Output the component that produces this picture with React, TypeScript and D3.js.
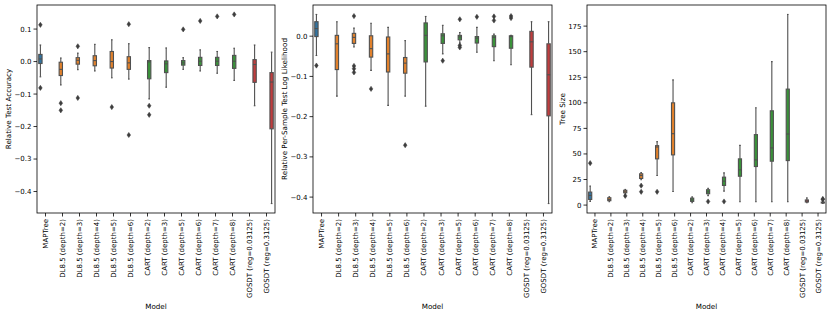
import * as d3 from "d3";

// categories
const models = [
  "MAPTree",
  "DL8.5 (depth=2)",
  "DL8.5 (depth=3)",
  "DL8.5 (depth=4)",
  "DL8.5 (depth=5)",
  "DL8.5 (depth=6)",
  "CART (depth=2)",
  "CART (depth=3)",
  "CART (depth=5)",
  "CART (depth=6)",
  "CART (depth=7)",
  "CART (depth=8)",
  "GOSDT (reg=0.03125)",
  "GOSDT (reg=0.3125)",
];
const modelsSize = [
  "MAPTree",
  "DL8.5 (depth=2)",
  "DL8.5 (depth=3)",
  "DL8.5 (depth=4)",
  "DL8.5 (depth=5)",
  "DL8.5 (depth=6)",
  "CART (depth=2)",
  "CART (depth=3)",
  "CART (depth=4)",
  "CART (depth=5)",
  "CART (depth=6)",
  "CART (depth=7)",
  "CART (depth=8)",
  "GOSDT (reg=0.03125)",
  "GOSDT (reg=0.3125)",
];
const families = ["MAPTree", "DL8.5", "CART", "GOSDT"];
const familyColors = ["#3274a1", "#e1812c", "#3a923a", "#c03d3e"];

// [whisker low, q1, median, q3, whisker high]
const accStats = [
  [-0.047, -0.006, 0.008, 0.022, 0.051],
  [-0.072, -0.043, -0.024, -0.002, 0.011],
  [-0.025, -0.008, 0.004, 0.012, 0.026],
  [-0.029, -0.013, 0.003, 0.018, 0.053],
  [-0.05, -0.02, 0.0, 0.031, 0.067],
  [-0.054, -0.024, -0.004, 0.015, 0.055],
  [-0.115, -0.053, -0.001, 0.003, 0.043],
  [-0.079, -0.034, -0.007, 0.002, 0.042],
  [-0.024, -0.011, -0.004, 0.003, 0.012],
  [-0.029, -0.012, 0.001, 0.013, 0.036],
  [-0.036, -0.012, 0.001, 0.013, 0.031],
  [-0.058, -0.021, 0.001, 0.019, 0.041],
  [-0.136, -0.064, -0.009, 0.006, 0.051],
  [-0.437, -0.207, -0.063, -0.034, 0.029],
];
const accOutliers = [
  [0.113, -0.081],
  [-0.128, -0.15],
  [0.047, -0.112],
  [],
  [-0.14],
  [0.115, -0.226],
  [-0.136, -0.164],
  [],
  [0.099],
  [0.125],
  [0.139],
  [0.145],
  [],
  [],
];

const llStats = [
  [-0.048, -0.001, 0.019, 0.036, 0.054],
  [-0.149, -0.083, -0.019, 0.002, 0.036],
  [-0.027, -0.018, -0.003, 0.007, 0.02],
  [-0.085, -0.052, -0.031, 0.001, 0.032],
  [-0.172, -0.089, -0.044, -0.002, 0.022],
  [-0.149, -0.092, -0.067, -0.053, -0.011],
  [-0.174, -0.064, 0.002, 0.033, 0.049],
  [-0.044, -0.018, 0.001, 0.006, 0.027],
  [-0.017, -0.009, -0.002, 0.002, 0.009],
  [-0.04, -0.017, -0.005, -0.001, 0.022],
  [-0.061, -0.026, -0.003, 0.001, 0.005],
  [-0.071, -0.03, -0.001, 0.001, 0.002],
  [-0.195, -0.077, -0.014, 0.012, 0.036],
  [-0.416, -0.198, -0.096, -0.019, 0.036],
];
const llOutliers = [
  [-0.073],
  [],
  [0.05, -0.074, -0.081, -0.09],
  [-0.131],
  [],
  [-0.271],
  [],
  [-0.061],
  [0.042, -0.023, -0.028],
  [0.048],
  [0.049, 0.039],
  [0.05, 0.045],
  [],
  [],
];

const sizeStats = [
  [3.6, 5.5, 9.4, 12.7, 18.5],
  [3.3, 4.3, 5.5, 7.2, 8.2],
  [10.5, 12, 13, 14.5, 15.3],
  [24.7, 26, 28.9, 30.6, 31.8],
  [28.9, 45.2, 56.8, 58.1, 62],
  [13.3, 49.1, 69.8, 100, 122.4],
  [2.3, 3.6, 5, 6.8, 8],
  [9.2, 11.1, 13, 15, 16.3],
  [13.6, 19.2, 23.4, 27.3, 31.5],
  [3.3, 28.2, 34.5, 45.2, 58.4],
  [3.3, 37.7, 44.2, 68.9, 95.2],
  [3.3, 42.9, 55.9, 92.2, 140.3],
  [3.3, 43.5, 69.5, 113.4, 186.4],
  [2.3, 3, 4, 5, 7],
  [1.5, 2, 2.5, 3, 4],
];
const sizeOutliers = [
  [41],
  [],
  [9],
  [19, 13],
  [13],
  [],
  [],
  [3.5],
  [3.5],
  [],
  [],
  [],
  [],
  [],
  [5.5, 6],
];

const accTicks = [-0.4, -0.3, -0.2, -0.1, 0.0, 0.1];
const llTicks = [-0.4, -0.3, -0.2, -0.1, 0.0];
const sizeTicks = [0, 25, 50, 75, 100, 125, 150, 175];

const familyOf = (m: string) => families.indexOf(m.split(" ")[0]);
const hueOffset = [-0.3, -0.1, 0.1, 0.3];

const top = 5;
const bottom = 213;
const fontFamily = "DejaVu Sans, sans-serif";
const lineGray = "#505050";

const fmtDec = (v: number) => d3.format(".1f")(v).replace("-", "\u2212");
const fmtInt = (v: number) => d3.format("d")(v);

type PanelProps = {
  cats: string[];
  stats: number[][];
  outliers: number[][];
  ticks: number[];
  fmt: (v: number) => string;
  ylabel: string;
  left: number;
  right: number;
  labelX: number;
};

const Panel = ({ cats, stats, outliers, ticks, fmt, ylabel, left, right, labelX }: PanelProps) => {
  const lo = d3.min([...stats.map((s) => s[0]), ...outliers.flat()]) as number;
  const hi = d3.max([...stats.map((s) => s[4]), ...outliers.flat()]) as number;
  const pad = (hi - lo) * 0.05;
  const y = d3.scaleLinear().domain([lo - pad, hi + pad]).range([bottom, top]);
  const x = d3.scaleLinear().domain([-0.5, cats.length - 0.5]).range([left, right]);
  const boxW = x(0.196) - x(0);

  return (
    <g fontFamily={fontFamily}>
      {cats.map((c, i) => {
        const g = familyOf(c);
        const cx = x(i + hueOffset[g]);
        const [wl, q1, med, q3, wh] = stats[i];
        const capW = boxW / 2;
        return (
          <g key={c}>
            <line x1={cx} x2={cx} y1={y(q3)} y2={y(wh)} stroke={lineGray} strokeWidth={1.1} />
            <line x1={cx} x2={cx} y1={y(q1)} y2={y(wl)} stroke={lineGray} strokeWidth={1.1} />
            <line x1={cx - capW / 2} x2={cx + capW / 2} y1={y(wh)} y2={y(wh)} stroke={lineGray} strokeWidth={1.1} />
            <line x1={cx - capW / 2} x2={cx + capW / 2} y1={y(wl)} y2={y(wl)} stroke={lineGray} strokeWidth={1.1} />
            <rect
              x={cx - boxW / 2}
              y={y(q3)}
              width={boxW}
              height={Math.max(y(q1) - y(q3), 0.5)}
              fill={familyColors[g]}
              stroke={lineGray}
              strokeWidth={1.1}
            />
            <line x1={cx - boxW / 2} x2={cx + boxW / 2} y1={y(med)} y2={y(med)} stroke={lineGray} strokeWidth={1.1} />
            {outliers[i].map((o, k) => (
              <path
                key={k}
                d={`M${cx},${y(o) - 2.6}L${cx + 1.8},${y(o)}L${cx},${y(o) + 2.6}L${cx - 1.8},${y(o)}Z`}
                fill="#3d3d3d"
                stroke="#3d3d3d"
                strokeWidth={0.5}
              />
            ))}
            <line x1={x(i)} x2={x(i)} y1={bottom} y2={bottom + 3.5} stroke="black" strokeWidth={0.8} />
            <text
              transform={`translate(${x(i) + 2.5},${bottom + 6}) rotate(-90)`}
              textAnchor="end"
              fontSize={7}
            >
              {c}
            </text>
          </g>
        );
      })}
      {ticks.map((t) => (
        <g key={t} transform={`translate(${left},${y(t)})`}>
          <line x1={-3.5} x2={0} stroke="black" strokeWidth={0.8} />
          <text x={-5.5} dy="0.35em" textAnchor="end" fontSize={7}>
            {fmt(t)}
          </text>
        </g>
      ))}
      <rect x={left} y={top} width={right - left} height={bottom - top} fill="none" stroke="black" strokeWidth={0.8} />
      <text
        transform={`translate(${labelX},${(top + bottom) / 2}) rotate(-90)`}
        textAnchor="middle"
        fontSize={7.2}
      >
        {ylabel}
      </text>
      <text x={(left + right) / 2} y={309} textAnchor="middle" fontSize={7.2}>
        Model
      </text>
    </g>
  );
};

export default function App() {
  return (
    <svg width={831} height={315} style={{ position: "absolute", left: 0, top: 0, background: "white" }}>
      <Panel
        cats={models}
        stats={accStats}
        outliers={accOutliers}
        ticks={accTicks}
        fmt={fmtDec}
        ylabel="Relative Test Accuracy"
        left={37}
        right={275}
        labelX={11}
      />
      <Panel
        cats={models}
        stats={llStats}
        outliers={llOutliers}
        ticks={llTicks}
        fmt={fmtDec}
        ylabel="Relative Per-Sample Test Log Likelihood"
        left={313}
        right={552}
        labelX={287}
      />
      <Panel
        cats={modelsSize}
        stats={sizeStats}
        outliers={sizeOutliers}
        ticks={sizeTicks}
        fmt={fmtInt}
        ylabel="Tree Size"
        left={587}
        right={826}
        labelX={565}
      />
    </svg>
  );
}
